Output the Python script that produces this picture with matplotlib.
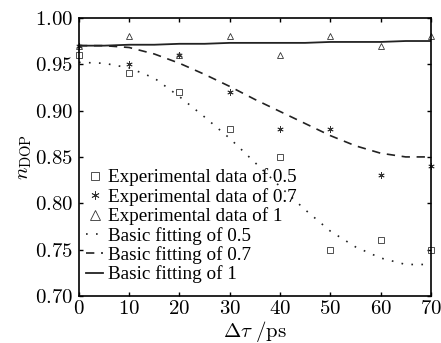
import matplotlib
matplotlib.use("Agg")
import matplotlib.pyplot as plt
from matplotlib.ticker import FuncFormatter

plt.rcParams['mathtext.fontset'] = 'cm'
plt.rcParams['font.family'] = ['Liberation Serif', 'DejaVu Serif']

# Experimental data
delay = [0, 10, 20, 30, 40, 50, 60, 70]
exp_05 = [0.96, 0.94, 0.92, 0.88, 0.85, 0.75, 0.76, 0.75]
exp_07 = [0.97, 0.95, 0.96, 0.92, 0.88, 0.88, 0.83, 0.84]
exp_1 = [0.97, 0.98, 0.96, 0.98, 0.96, 0.98, 0.97, 0.98]

# Fitting curves
fit_x = [0, 5, 10, 15, 20, 25, 30, 35, 40, 45, 50, 55, 60, 65, 70]
fit_05 = [0.952, 0.951, 0.946, 0.935, 0.915, 0.893, 0.870, 0.844, 0.818,
          0.793, 0.770, 0.753, 0.741, 0.734, 0.734]
fit_07 = [0.970, 0.970, 0.968, 0.961, 0.951, 0.939, 0.926, 0.912, 0.899,
          0.886, 0.873, 0.862, 0.854, 0.850, 0.850]
fit_1 = [0.970, 0.970, 0.971, 0.971, 0.972, 0.972, 0.973, 0.973, 0.973,
         0.973, 0.974, 0.974, 0.974, 0.975, 0.975]

labels = ["Experimental data of 0.5", "Experimental data of 0.7",
          "Experimental data of 1", "Basic fitting of 0.5",
          "Basic fitting of 0.7", "Basic fitting of 1"]

fig = plt.figure(figsize=(4.41, 3.43), dpi=100)
ax = fig.add_axes([0.179, 0.137, 0.798, 0.811])

ax.plot(delay, exp_05, ls='none', marker='s', mfc='none', mec='#333333',
        ms=4.5, mew=0.6, label=labels[0], clip_on=False)
ax.plot(delay, exp_07, ls='none', marker=(6, 2, 0), color='#333333',
        ms=4.5, mew=0.6, label=labels[1], clip_on=False)
ax.plot(delay, exp_1, ls='none', marker='^', mfc='none', mec='#333333',
        ms=5, mew=0.6, label=labels[2], clip_on=False)
ax.plot(fit_x, fit_05, ls=(0, (1, 5)), color='#222222', lw=1.2, label=labels[3])
ax.plot(fit_x, fit_07, ls=(0, (5, 4)), color='#222222', lw=1.2, label=labels[4])
ax.plot(fit_x, fit_1, ls='-', color='#222222', lw=1.3, label=labels[5])

ax.set_xlim(0, 70)
ax.set_ylim(0.70, 1.00)
ax.set_xticks(range(0, 71, 10))
ax.set_yticks([0.70, 0.75, 0.80, 0.85, 0.90, 0.95, 1.00])
ax.xaxis.set_major_formatter(FuncFormatter(lambda v, p: r'$%d$' % v))
ax.yaxis.set_major_formatter(FuncFormatter(lambda v, p: r'$%.2f$' % v))
ax.tick_params(direction='in', top=True, right=True, labelsize=15,
               length=3, width=1)
ax.tick_params(axis='x', pad=3)
ax.tick_params(axis='y', pad=4)
for s in ax.spines.values():
    s.set_linewidth(1.2)

ax.set_xlabel(r'$\Delta\tau\ /\mathrm{ps}$', fontsize=15, labelpad=0)
ax.set_ylabel(r'$n_{\mathrm{DOP}}$', fontsize=15, labelpad=1)

leg = ax.legend(loc='lower left', bbox_to_anchor=(0.02, 0.045), frameon=False,
                fontsize=13.8, handlelength=0.9, handletextpad=0.25,
                labelspacing=0.08, borderaxespad=0.0, borderpad=0.0,
                markerscale=1.3)

fig.savefig('out.png', dpi=100)
